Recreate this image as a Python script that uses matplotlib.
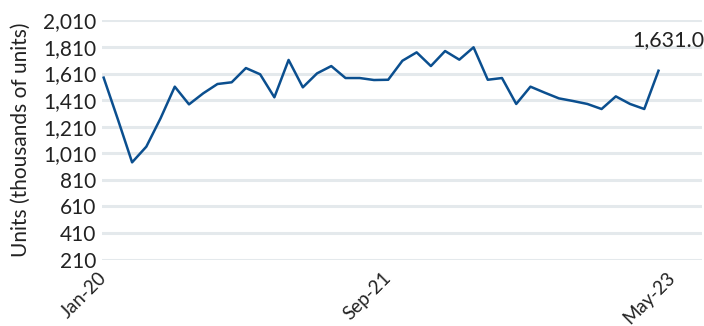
import matplotlib
matplotlib.use("Agg")
import matplotlib.pyplot as plt

# ---------------------------------------------------------------------------
# Data: monthly housing starts, thousands of units (SAAR)
# ---------------------------------------------------------------------------
starts = [1579, 1265, 942, 1060, 1273, 1511, 1378, 1461, 1531, 1544,
          1651, 1604, 1431, 1712, 1506, 1611, 1666, 1576, 1576, 1561,
          1563, 1706, 1769, 1666, 1779, 1714, 1807, 1563, 1576, 1381,
          1511, 1466, 1423, 1403, 1381, 1343, 1438, 1381, 1343, 1631]
tick_pos = [0, 20, 40]
tick_labels = ["Jan-20", "Sep-21", "May-23"]
y_ticks = list(range(210, 2011, 200))
last_label = "1,631.0"

LINE = "#0b4f8f"
GRID = "#e4e9ec"
TEXT = "#222222"

plt.rcParams["font.family"] = ["Lato", "DejaVu Sans"]

fig = plt.figure(figsize=(7.04, 3.26), dpi=100)
ax = fig.add_axes([0.145, 0.2034, 0.852, 0.7343])

x = list(range(len(starts)))
ax.plot(x, starts, color=LINE, lw=1.8, clip_on=False, zorder=3)

ax.set_xlim(-0.11, 42.05)
ax.set_ylim(210, 2010)
ax.set_yticks(y_ticks)
ax.set_yticklabels([f"{v:,}" for v in y_ticks])
ax.set_xticks(tick_pos)
ax.set_xticklabels(tick_labels, rotation=45, ha="right", va="center",
                   rotation_mode="anchor")

ax.grid(axis="y", color=GRID, lw=2.2, zorder=0)
ax.grid(axis="x", visible=False)
for s in ax.spines.values():
    s.set_visible(False)
ax.tick_params(axis="both", length=0, colors=TEXT)
ax.tick_params(axis="y", labelsize=15, pad=4)
ax.tick_params(axis="x", labelsize=13.5, pad=11)

ax.set_ylabel("Units (thousands of units)", fontsize=15, color=TEXT,
              labelpad=9)

# value label on the latest point
ax.annotate(last_label, (x[-1], starts[-1]), xytext=(10, 31),
            textcoords="offset pixels", ha="center", va="center",
            fontsize=15.5, color=TEXT)

fig.savefig("out.png", dpi=100)
